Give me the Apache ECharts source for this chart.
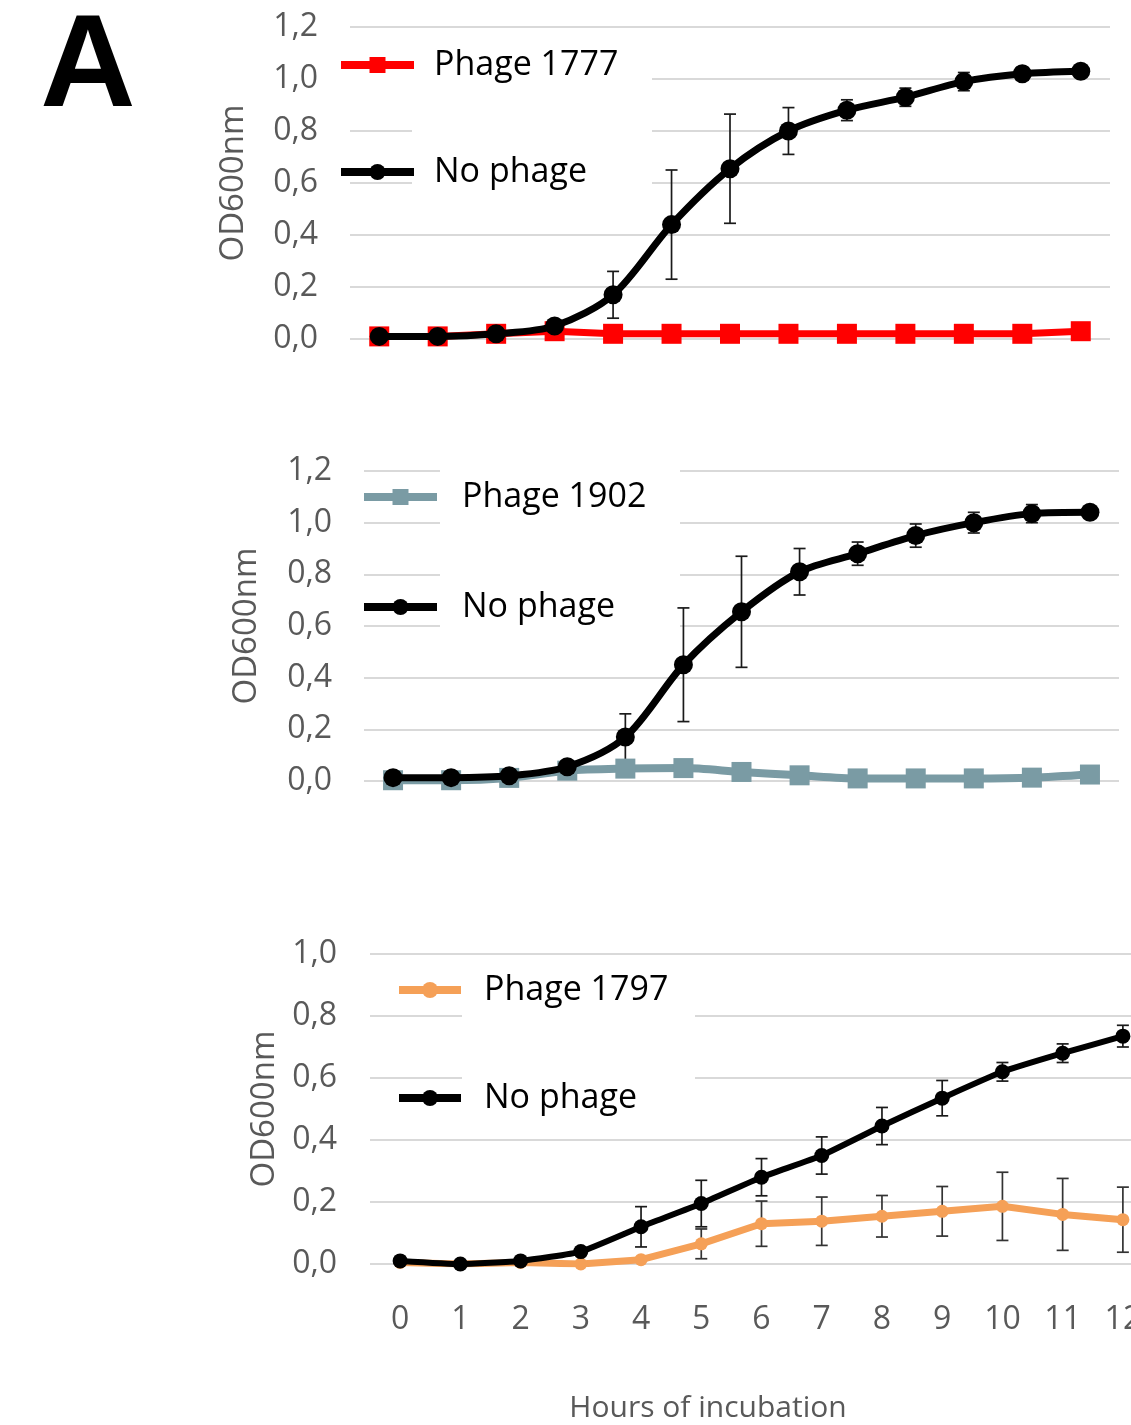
<!DOCTYPE html>
<html>
<head>
<meta charset="utf-8">
<style>
  html, body { margin: 0; padding: 0; background: #ffffff; }
  #chart { width: 1131px; height: 1425px; }
</style>
<script src="https://cdn.jsdelivr.net/npm/echarts@6/dist/echarts.min.js"></script>
</head>
<body>
<div id="chart"></div>
<script>
// ---------- DATA ----------
const hours = ['0','1','2','3','4','5','6','7','8','9','10','11','12'];

const yTicksA = ['0,0','0,2','0,4','0,6','0,8','1,0','1,2'];

// Panel 1
const noPhage1     = [0.01, 0.01, 0.02, 0.05, 0.17, 0.44, 0.655, 0.80, 0.88, 0.93, 0.99, 1.02, 1.03];
const noPhage1Err  = [0.005, 0.005, 0.005, 0.01, 0.09, 0.21, 0.21, 0.09, 0.04, 0.035, 0.035, 0.025, 0.01];
const phage1777    = [0.01, 0.01, 0.02, 0.03, 0.02, 0.02, 0.02, 0.02, 0.02, 0.02, 0.02, 0.02, 0.03];

// Panel 2
const noPhage2     = [0.013, 0.013, 0.02, 0.055, 0.17, 0.45, 0.655, 0.81, 0.88, 0.95, 1.00, 1.035, 1.04];
const noPhage2Err  = [0.005, 0.005, 0.005, 0.01, 0.09, 0.22, 0.215, 0.09, 0.045, 0.045, 0.04, 0.035, 0.01];
const phage1902    = [0.003, 0.003, 0.012, 0.04, 0.048, 0.05, 0.035, 0.022, 0.01, 0.01, 0.01, 0.013, 0.025];

// Panel 3
const noPhage3     = [0.01, 0.0, 0.01, 0.04, 0.12, 0.195, 0.28, 0.35, 0.445, 0.535, 0.62, 0.68, 0.735];
const noPhage3Err  = [0.005, 0.005, 0.005, 0.01, 0.065, 0.075, 0.06, 0.06, 0.06, 0.057, 0.03, 0.03, 0.035];
const phage1797    = [0.005, 0.0, 0.005, 0.0, 0.014, 0.065, 0.13, 0.138, 0.154, 0.17, 0.186, 0.16, 0.143];
const phage1797Err = [0, 0, 0, 0, 0.005, 0.048, 0.073, 0.078, 0.067, 0.08, 0.11, 0.116, 0.105];

// ---------- STYLE ----------
const FONT = '"Open Sans", "Noto Sans", sans-serif';
const GRAY_TXT = '#595959';
const GRID_LINE = '#d9d9d9';
const RED = '#ff0000';
const SLATE = '#7a9ba4';
const ORANGE = '#f5a057';
const BLACK = '#000000';

function tickFmt(v) {
  const i = Math.round(v / 0.2);
  return yTicksA[i] !== undefined ? yTicksA[i] : '';
}

function yAxis(gridIndex, max, margin, nameGap) {
  return {
    type: 'value', gridIndex, min: 0, max, interval: 0.2,
    axisLine: { show: false }, axisTick: { show: false },
    axisLabel: { formatter: tickFmt, color: GRAY_TXT, fontSize: 32, fontFamily: FONT, margin },
    splitLine: { lineStyle: { color: GRID_LINE, width: 2 } },
    name: 'OD600nm', nameLocation: 'middle', nameGap,
    nameTextStyle: { color: GRAY_TXT, fontSize: 33, fontFamily: FONT }
  };
}

function xAxis(gridIndex, showLabels) {
  return {
    type: 'category', gridIndex, data: hours, boundaryGap: true,
    axisLine: { show: false }, axisTick: { show: false },
    axisLabel: { show: showLabels, color: GRAY_TXT, fontSize: 32, fontFamily: FONT, margin: 40 },
    splitLine: { show: false }
  };
}

function errSeries(idx, mean, err, color) {
  return {
    type: 'custom', xAxisIndex: idx, yAxisIndex: idx, z: 3, silent: true,
    encode: { x: 0, y: [1, 2] },
    data: mean.map((m, i) => [i, m - err[i], m + err[i]]),
    renderItem: function (params, api) {
      const x = api.value(0);
      const lo = api.coord([x, api.value(1)]);
      const hi = api.coord([x, api.value(2)]);
      const w = 6;
      const st = { stroke: color, lineWidth: 1.7 };
      return {
        type: 'group',
        children: [
          { type: 'line', shape: { x1: lo[0], y1: lo[1], x2: hi[0], y2: hi[1] }, style: st },
          { type: 'line', shape: { x1: lo[0] - w, y1: lo[1], x2: lo[0] + w, y2: lo[1] }, style: st },
          { type: 'line', shape: { x1: hi[0] - w, y1: hi[1], x2: hi[0] + w, y2: hi[1] }, style: st }
        ]
      };
    }
  };
}

function lineSeries(idx, name, data, color, symbol, size, width, smooth, z) {
  return {
    type: 'line', name, xAxisIndex: idx, yAxisIndex: idx, data,
    symbol, symbolSize: size, smooth, z,
    showSymbol: true,
    lineStyle: { color, width },
    itemStyle: { color, borderWidth: 0 },
    emphasis: { disabled: true },
    animation: false
  };
}

function legend(left, top, names, iconW, gap, textPad) {
  return {
    orient: 'vertical', left, top, itemWidth: iconW, itemHeight: 20,
    itemGap: gap, padding: 0, selectedMode: false,
    data: names,
    lineStyle: { width: 8 },
    textStyle: { color: '#000', fontSize: 34, fontFamily: FONT, lineHeight: 40, padding: [0, 0, 0, textPad] }
  };
}

const option = {
  backgroundColor: '#ffffff',
  animation: false,
  grid: [
    { left: 350, top: 27, width: 760, height: 312, outerBoundsMode: 'none' },
    { left: 364, top: 471, width: 755, height: 310, outerBoundsMode: 'none' },
    { left: 370, top: 954, width: 783, height: 310, outerBoundsMode: 'none' }
  ],
  xAxis: [xAxis(0, false), xAxis(1, false), xAxis(2, true)],
  yAxis: [yAxis(0, 1.2, 32, 100), yAxis(1, 1.2, 32, 101), yAxis(2, 1.0, 33, 88)],
  legend: [
    legend(337, 45, ['Phage 1777', 'No phage'], 73, 67, 15),
    legend(360, 477, ['Phage 1902', 'No phage'], 73, 70, 20),
    legend(395, 970, ['Phage 1797', 'No phage'], 62, 68, 18)
  ],
  graphic: [
    { type: 'rect', z: 1, shape: { x: 412, y: 36, width: 240, height: 165 }, style: { fill: '#fff' } },
    { type: 'rect', z: 1, shape: { x: 337, y: 50, width: 76, height: 38 }, style: { fill: '#fff' } },
    { type: 'rect', z: 1, shape: { x: 440, y: 462, width: 240, height: 170 }, style: { fill: '#fff' } },
    { type: 'rect', z: 1, shape: { x: 462, y: 962, width: 233, height: 160 }, style: { fill: '#fff' } },
    { type: 'text', z: 5, style: { text: 'A', x: 88, y: 70, textAlign: 'center', textVerticalAlign: 'middle',
        font: 'bold 132px "Liberation Sans", Arial, sans-serif', fill: '#000' } },
    { type: 'text', z: 5, style: { text: 'Hours of incubation', x: 708, y: 1408, textAlign: 'center', textVerticalAlign: 'middle',
        font: '30px "Open Sans", sans-serif', fill: GRAY_TXT } }
  ],
  series: [
    // panel 1
    lineSeries(0, 'Phage 1777', phage1777, RED, 'rect', 20, 7, false, 4),
    errSeries(0, noPhage1, noPhage1Err, '#1a1a1a'),
    lineSeries(0, 'No phage', noPhage1, BLACK, 'circle', 19, 7, 0.3, 5),
    // panel 2
    lineSeries(1, 'Phage 1902', phage1902, SLATE, 'rect', 20, 8, 0.3, 4),
    errSeries(1, noPhage2, noPhage2Err, '#1a1a1a'),
    lineSeries(1, 'No phage', noPhage2, BLACK, 'circle', 19, 7, 0.3, 5),
    // panel 3
    errSeries(2, phage1797, phage1797Err, '#333333'),
    lineSeries(2, 'Phage 1797', phage1797, ORANGE, 'circle', 13, 7, false, 4),
    errSeries(2, noPhage3, noPhage3Err, '#1a1a1a'),
    lineSeries(2, 'No phage', noPhage3, BLACK, 'circle', 15, 6, 0.15, 5)
  ]
};

const chart = echarts.init(document.getElementById('chart'), null, { renderer: 'canvas' });
chart.setOption(option);
</script>
</body>
</html>
